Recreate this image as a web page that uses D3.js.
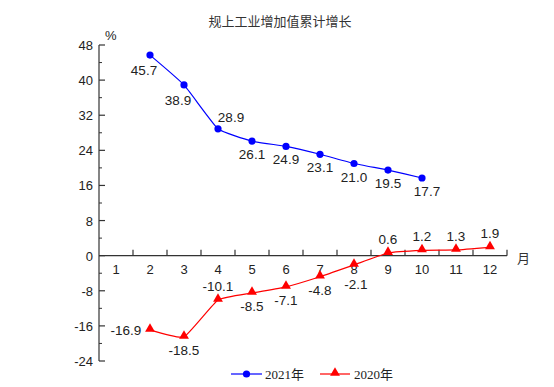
<!DOCTYPE html>
<html>
<head>
<meta charset="utf-8">
<script src="https://cdn.jsdelivr.net/npm/d3@7"></script>
<style>
  body { margin: 0; background: #fff; }
  svg text { font-family: "Liberation Sans", Arial, sans-serif; }
</style>
</head>
<body>
<svg width="554" height="387"></svg>
<script>
const months = [1, 2, 3, 4, 5, 6, 7, 8, 9, 10, 11, 12];
const yTicks = [-24, -16, -8, 0, 8, 16, 24, 32, 40, 48];

const months2021 = [2, 3, 4, 5, 6, 7, 8, 9, 10];
const values2021 = [45.7, 38.9, 28.9, 26.1, 24.9, 23.1, 21.0, 19.5, 17.7];
const place2021 = ['bl', 'bl', 'ar', 'b', 'b', 'b', 'b', 'b', 'br'];

const months2020 = [2, 3, 4, 5, 6, 7, 8, 9, 10, 11, 12];
const values2020 = [-16.9, -18.5, -10.1, -8.5, -7.1, -4.8, -2.1, 0.6, 1.2, 1.3, 1.9];
const place2020 = ['l', 'b', 'a', 'b', 'b', 'b', 'bb', 'a', 'a', 'a', 'a'];

const svg = d3.select('svg');
const plotL = 99, plotR = 507, plotT = 45, plotB = 361;

const x = d3.scaleBand().domain(months).range([plotL, plotR]);
const y = d3.scaleLinear().domain([-24, 48]).range([plotB, plotT]);
const cx = (m) => x(m) + x.bandwidth() / 2;

// title
svg.append('text')
  .attr('x', 280).attr('y', 26)
  .attr('text-anchor', 'middle')
  .style('font-family', '"Noto Sans CJK SC", sans-serif')
  .style('font-size', '13px')
  .attr('fill', '#333')
  .text('规上工业增加值累计增长');

// y axis, ticks point inward
const axisColor = '#333';
const yAxis = svg.append('g');
yAxis.append('line')
  .attr('x1', plotL).attr('x2', plotL)
  .attr('y1', y(48)).attr('y2', y(-24))
  .attr('stroke', axisColor).attr('stroke-width', 1.2);
yAxis.selectAll('.major').data(yTicks).enter().append('line')
  .attr('x1', plotL).attr('x2', plotL + 6)
  .attr('y1', (d) => y(d)).attr('y2', (d) => y(d))
  .attr('stroke', axisColor).attr('stroke-width', 1.2);
yAxis.selectAll('.minor').data(d3.range(-20, 48, 8)).enter().append('line')
  .attr('x1', plotL).attr('x2', plotL + 3)
  .attr('y1', (d) => y(d)).attr('y2', (d) => y(d))
  .attr('stroke', axisColor).attr('stroke-width', 1);
yAxis.selectAll('text').data(yTicks).enter().append('text')
  .attr('x', plotL - 6).attr('y', (d) => y(d) + 5)
  .attr('text-anchor', 'end')
  .style('font-size', '13px')
  .attr('fill', '#222')
  .text((d) => d);
svg.append('text')
  .attr('x', 105).attr('y', 40)
  .style('font-size', '13px').attr('fill', '#222')
  .text('%');

// x axis at zero
const xAxis = svg.append('g');
xAxis.append('line')
  .attr('x1', plotL).attr('x2', plotR)
  .attr('y1', y(0)).attr('y2', y(0))
  .attr('stroke', axisColor).attr('stroke-width', 1.2);
xAxis.selectAll('.tk').data(months).enter().append('line')
  .attr('x1', (d) => x(d) + x.bandwidth()).attr('x2', (d) => x(d) + x.bandwidth())
  .attr('y1', y(0) - 6).attr('y2', y(0))
  .attr('stroke', axisColor).attr('stroke-width', 1.2);
xAxis.selectAll('text').data(months).enter().append('text')
  .attr('x', (d) => cx(d)).attr('y', y(0) + 18)
  .attr('text-anchor', 'middle')
  .style('font-size', '13px').attr('fill', '#222')
  .text((d) => d);
svg.append('text')
  .attr('x', plotR + 10).attr('y', y(0) + 7)
  .style('font-family', '"Noto Sans CJK SC", sans-serif')
  .style('font-size', '13px').attr('fill', '#333')
  .text('月');

const line = d3.line().x((d) => cx(d[0])).y((d) => y(d[1])).curve(d3.curveCardinal.tension(0.6));

function drawLabels(pts, place, cls) {
  const off = {
    b: [0, 18], a: [0, -9], bb: [2, 24],
    bl: [-6, 20], ar: [13, -7], br: [5, 18],
    l: [-24, 5]
  };
  svg.selectAll('.' + cls).data(pts).enter().append('text')
    .attr('class', cls)
    .attr('x', (d, i) => cx(d[0]) + off[place[i]][0])
    .attr('y', (d, i) => y(d[1]) + off[place[i]][1])
    .attr('text-anchor', 'middle')
    .style('font-size', '13.5px').attr('fill', '#222')
    .text((d) => d[1].toFixed(1));
}

// 2021
const pts2021 = months2021.map((m, i) => [m, values2021[i]]);
svg.append('path').datum(pts2021)
  .attr('d', line).attr('fill', 'none')
  .attr('stroke', '#0000ff').attr('stroke-width', 1.2);
svg.selectAll('.dot').data(pts2021).enter().append('circle')
  .attr('cx', (d) => cx(d[0])).attr('cy', (d) => y(d[1]))
  .attr('r', 3.6).attr('fill', '#0000ff');
drawLabels(pts2021, place2021, 'lab21');

// 2020
const pts2020 = months2020.map((m, i) => [m, values2020[i]]);
const tri = d3.symbol().type(d3.symbolTriangle).size(42);
svg.append('path').datum(pts2020)
  .attr('d', line).attr('fill', 'none')
  .attr('stroke', '#ff0000').attr('stroke-width', 1.2);
svg.selectAll('.tri').data(pts2020).enter().append('path')
  .attr('d', tri)
  .attr('transform', (d) => `translate(${cx(d[0])},${y(d[1]) - 1})`)
  .attr('fill', '#ff0000');
drawLabels(pts2020, place2020, 'lab20');

// legend
const lg = svg.append('g');
lg.append('line').attr('x1', 231).attr('x2', 262).attr('y1', 374).attr('y2', 374)
  .attr('stroke', '#0000ff').attr('stroke-width', 1.2);
lg.append('circle').attr('cx', 246.5).attr('cy', 374).attr('r', 3.6).attr('fill', '#0000ff');
lg.append('text').attr('x', 265).attr('y', 379)
  .style('font-family', '"Liberation Serif", "Noto Sans CJK SC", serif')
  .style('font-size', '13px').attr('fill', '#222').text('2021年');
lg.append('line').attr('x1', 320).attr('x2', 350).attr('y1', 374).attr('y2', 374)
  .attr('stroke', '#ff0000').attr('stroke-width', 1.2);
lg.append('path').attr('d', tri).attr('transform', 'translate(335,373)').attr('fill', '#ff0000');
lg.append('text').attr('x', 354).attr('y', 379)
  .style('font-family', '"Liberation Serif", "Noto Sans CJK SC", serif')
  .style('font-size', '13px').attr('fill', '#222').text('2020年');
</script>
</body>
</html>
